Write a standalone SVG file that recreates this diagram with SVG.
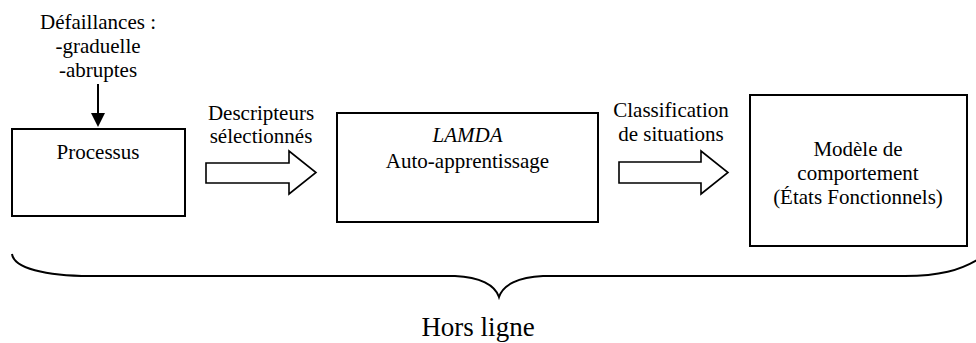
<svg xmlns="http://www.w3.org/2000/svg" width="976" height="343" viewBox="0 0 976 343">
<style>
text{font-family:"Liberation Serif","Times New Roman",serif;font-size:21px;fill:#000;text-anchor:middle}
text.big{font-size:27px}
text.it{font-style:italic}
.box{fill:#fff;stroke:#000;stroke-width:2}
.blk{fill:#fff;stroke:#000;stroke-width:1.6;stroke-linejoin:miter}
.brace{fill:none;stroke:#000;stroke-width:2}
</style>
<rect width="976" height="343" fill="#fff"/>
<g id="defaillances">
<text x="98" y="29">Défaillances :</text>
<text x="98" y="53">-graduelle</text>
<text x="98" y="77">-abruptes</text>
</g>
<g id="processus">
<rect class="box" x="12" y="129" width="173" height="87"/>
<text x="98" y="159">Processus</text>
</g>
<g id="lamda">
<rect class="box" x="337" y="113" width="261" height="109"/>
<text class="it" x="467.5" y="142">LAMDA</text>
<text x="467.5" y="168">Auto-apprentissage</text>
</g>
<g id="modele">
<rect class="box" x="750" y="95" width="217" height="151"/>
<text x="858" y="156">Modèle de</text>
<text x="858" y="180">comportement</text>
<text x="858" y="204">(États Fonctionnels)</text>
</g>
<g id="connectors">
<line x1="98" y1="84" x2="98" y2="114" stroke="#000" stroke-width="2"/>
<polygon points="91,113 105,113 98,127" fill="#000"/>
<polygon class="blk" points="206,163 289,163 289,151 316,172.5 289,194 289,183 206,183"/>
<text x="261" y="120">Descripteurs</text>
<text x="261" y="143">sélectionnés</text>
<polygon class="blk" points="619,162 701,162 701,151 728,172.5 701,194 701,183 619,183"/>
<text x="671" y="117">Classification</text>
<text x="671" y="141">de situations</text>
</g>
<g id="brace">
<path class="brace" d="M12,254 C14,268 45,276 90,276 L455,276 C480,277 495,285 499,297 C503,285 518,277 543,276 L905,276 C940,276 960,270 977,260"/>
<text class="big" x="478" y="336">Hors ligne</text>
</g>
</svg>
